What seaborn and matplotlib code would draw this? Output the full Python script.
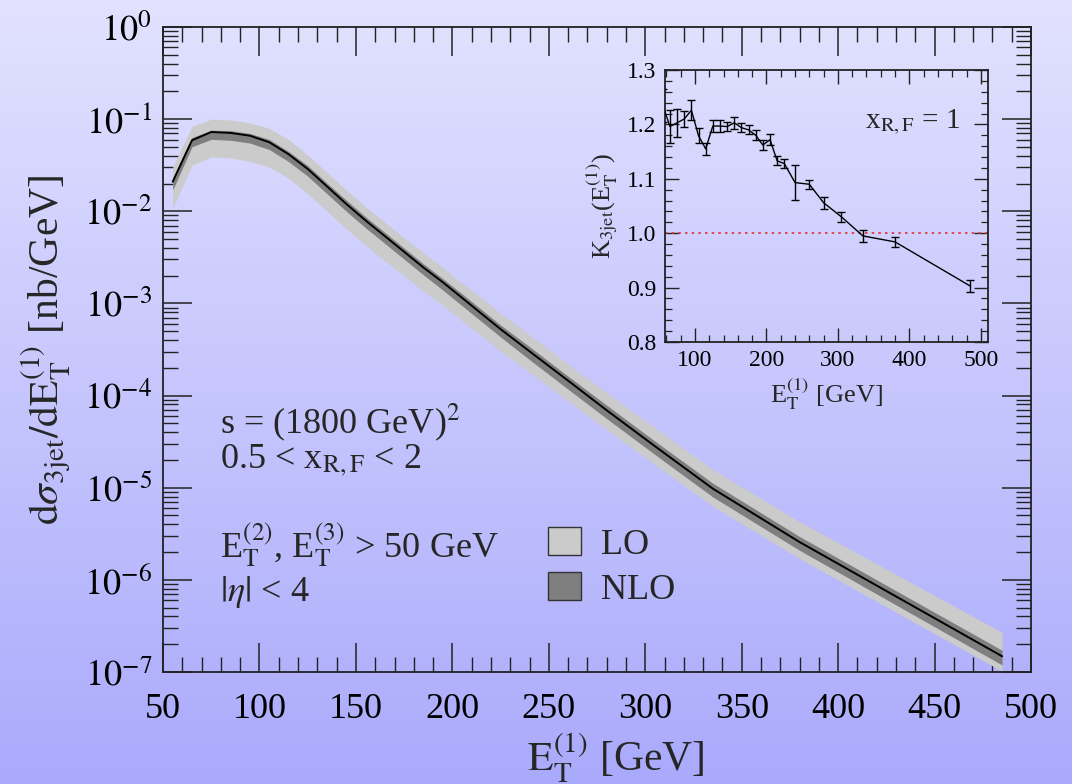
import numpy as np
import pandas as pd
import matplotlib
matplotlib.use("Agg")
import matplotlib.pyplot as plt
import seaborn as sns
from matplotlib.ticker import FixedLocator, MultipleLocator, FuncFormatter, LogLocator, NullFormatter
from matplotlib.patches import Patch

# ---------------- data ----------------
et = [55, 65, 75, 85, 95, 105, 115, 125, 135, 145, 155, 165, 175, 185, 195,
      205, 215, 225, 240, 260, 280, 305, 335, 380, 485]
nlo_central = [0.0209, 0.0589, 0.0724, 0.0708, 0.0661, 0.0562, 0.0417, 0.0288, 0.0186,
               0.0120, 0.00794, 0.00537, 0.00363, 0.00245, 0.00170, 0.00115, 7.76e-4,
               5.25e-4, 3.02e-4, 1.45e-4, 6.92e-5, 2.82e-5, 9.77e-6, 2.57e-6, 1.48e-7]
lo_upper = [0.0302, 0.0832, 0.100, 0.0977, 0.0912, 0.0794, 0.0603, 0.0407, 0.0263,
            0.0170, 0.0112, 0.00759, 0.00513, 0.00355, 0.00245, 0.00166, 0.00115,
            7.76e-4, 4.57e-4, 2.19e-4, 1.07e-4, 4.47e-5, 1.58e-5, 4.27e-6, 2.69e-7]
lo_lower = [0.01072, 0.0316, 0.0389, 0.0380, 0.0347, 0.0302, 0.0229, 0.0155, 0.0100,
            0.00646, 0.00427, 0.00288, 0.00200, 0.00135, 9.55e-4, 6.46e-4, 4.47e-4,
            3.02e-4, 1.78e-4, 8.71e-5, 4.27e-5, 1.78e-5, 6.31e-6, 1.70e-6, 1.02e-7]
nlo_upper = [0.0229, 0.0631, 0.0759, 0.0750, 0.0700, 0.0603, 0.0447, 0.0313, 0.0202,
             0.0132, 0.00871, 0.00589, 0.00398, 0.00269, 0.00186, 0.00127, 8.61e-4,
             5.82e-4, 3.39e-4, 1.62e-4, 7.85e-5, 3.20e-5, 1.12e-5, 2.95e-6, 1.72e-7]
nlo_lower = [0.0170, 0.0501, 0.0603, 0.0589, 0.0550, 0.0468, 0.0347, 0.0240, 0.0155,
             0.0100, 0.00661, 0.00447, 0.00302, 0.00204, 0.00140, 9.44e-4, 6.38e-4,
             4.32e-4, 2.45e-4, 1.17e-4, 5.62e-5, 2.29e-5, 7.94e-6, 2.09e-6, 1.19e-7]

k_factor = [1.235, 1.196, 1.203, 1.210, 1.226, 1.179, 1.155, 1.197, 1.197, 1.196,
            1.203, 1.194, 1.190, 1.180, 1.162, 1.172, 1.133, 1.128, 1.093, 1.090,
            1.056, 1.030, 0.995, 0.984, 0.903]
k_error = [0.030, 0.030, 0.026, 0.014, 0.018, 0.014, 0.011, 0.011, 0.011, 0.009,
           0.011, 0.008, 0.008, 0.009, 0.009, 0.010, 0.008, 0.009, 0.032, 0.008,
           0.011, 0.009, 0.011, 0.009, 0.011]

main_xticks = [50, 100, 150, 200, 250, 300, 350, 400, 450, 500]
main_yticks = [1e-7, 1e-6, 1e-5, 1e-4, 1e-3, 1e-2, 1e-1, 1e0]
inset_xticks = [100, 200, 300, 400, 500]
inset_yticks = [0.8, 0.9, 1.0, 1.1, 1.2, 1.3]

df = pd.DataFrame({"et": et, "nlo": nlo_central, "k": k_factor})

# ---------------- style ----------------
sns.set_theme(style="ticks")
plt.rcParams["font.family"] = ["Liberation Serif", "DejaVu Serif"]
plt.rcParams["mathtext.fontset"] = "stix"
plt.rcParams["axes.linewidth"] = 1.3

LO_COLOR = "#cbcbcb"
NLO_COLOR = "#7f7f7f"

fig = plt.figure(figsize=(10.72, 7.84), dpi=100)

# gradient background
bg = fig.add_axes([0, 0, 1, 1], zorder=-10)
top = np.array([226, 226, 255]) / 255.0
bot = np.array([170, 170, 252]) / 255.0
t = np.linspace(0, 1, 256)[:, None]
grad = (top[None, :] * (1 - t) + bot[None, :] * t)[:, None, :]
bg.imshow(grad, aspect="auto", extent=[0, 1, 0, 1], origin="upper")
bg.set_axis_off()

# ---------------- main axes ----------------
ax = fig.add_axes([0.1521, 0.1429, 0.8097, 0.8227])
ax.set_facecolor("none")
ax.set_yscale("log")
ax.fill_between(et, lo_lower, lo_upper, color=LO_COLOR, lw=0, zorder=1)
ax.fill_between(et, nlo_lower, nlo_upper, color=NLO_COLOR, lw=0, zorder=2)
sns.lineplot(data=df, x="et", y="nlo", ax=ax, color="black", lw=1.4, zorder=3)
ax.set_xlim(50, 500)
ax.set_ylim(1e-7, 1)
ax.xaxis.set_major_locator(FixedLocator(main_xticks))
ax.xaxis.set_minor_locator(MultipleLocator(10))
ax.yaxis.set_major_locator(FixedLocator(main_yticks))
ax.yaxis.set_minor_locator(LogLocator(base=10, subs=np.arange(2, 10), numticks=20))
ax.yaxis.set_minor_formatter(NullFormatter())
ax.yaxis.set_major_formatter(FuncFormatter(lambda v, p: r"$10^{%d}$" % int(round(np.log10(v)))))
ax.tick_params(which="both", direction="in", top=True, right=True, colors="#222222",
               labelcolor="black", labelsize=26)
ax.tick_params(which="major", length=21, width=1.1)
ax.tick_params(axis="x", which="major", pad=15)
ax.tick_params(axis="y", which="major", pad=8)
ax.tick_params(which="minor", length=10.5, width=1.0)
for s in ax.spines.values():
    s.set_color("#222222")
ax.set_xlabel(r"$\mathrm{E}_{\mathrm{T}}^{(1)}$ [GeV]", fontsize=30, labelpad=2)
ax.xaxis.set_label_coords(0.522, -0.092)
ax.set_ylabel(r"$\mathrm{d}\sigma_{\mathrm{3jet}}/\mathrm{dE}_{\mathrm{T}}^{(1)}$ [nb/GeV]",
              fontsize=30, labelpad=8)

# annotations
fig.text(220 / 1072, 1 - 433 / 784, r"s = (1800 GeV)$^{2}$", fontsize=26, va="baseline")
fig.text(220 / 1072, 1 - 468 / 784, r"0.5 < x$_{\mathrm{R,F}}$ < 2", fontsize=26, va="baseline")
fig.text(220 / 1072, 1 - 557 / 784,
         r"E$_{\mathrm{T}}^{(2)}$, E$_{\mathrm{T}}^{(3)}$ > 50 GeV",
         fontsize=26, va="baseline")
fig.text(220 / 1072, 1 - 601 / 784, r"$|\eta|$ < 4", fontsize=26, va="baseline")

handles = [Patch(facecolor=LO_COLOR, edgecolor="#333333", lw=1.0, label="LO"),
           Patch(facecolor=NLO_COLOR, edgecolor="#333333", lw=1.0, label="NLO")]
ax.legend(handles=handles, loc="upper left", bbox_to_anchor=(541 / 1072, 1 - 520 / 784),
          bbox_transform=fig.transFigure, frameon=False, fontsize=26,
          handlelength=0.9, handleheight=0.8, handletextpad=0.55, labelspacing=0.3,
          borderpad=0.2, borderaxespad=0)

# ---------------- inset ----------------
ins = fig.add_axes([0.6203, 0.5638, 0.3013, 0.3469])
ins.set_facecolor("none")
ins.axhline(1.0, color="#e03030", ls=(0, (1.5, 2.5)), lw=1.2, zorder=1)
sns.lineplot(data=df, x="et", y="k", ax=ins, color="black", lw=1.0, zorder=3)
ins.errorbar(et, k_factor, yerr=k_error, fmt="none", ecolor="black", elinewidth=1.0,
             capsize=3, capthick=1.0, zorder=3)
ins.set_xlim(58, 510)
ins.set_ylim(0.8, 1.3)
ins.xaxis.set_major_locator(FixedLocator(inset_xticks))
ins.xaxis.set_minor_locator(MultipleLocator(20))
ins.yaxis.set_major_locator(FixedLocator(inset_yticks))
ins.yaxis.set_minor_locator(MultipleLocator(0.02))
ins.yaxis.set_major_formatter(FuncFormatter(lambda v, p: "%.1f" % v))
ins.tick_params(which="both", direction="in", top=True, right=True, colors="#222222",
                labelcolor="black", labelsize=17)
ins.tick_params(which="major", length=10, width=1.0, pad=6)
ins.tick_params(which="minor", length=5, width=0.9)
for s in ins.spines.values():
    s.set_color("#222222")
ins.set_xlabel(r"E$_{\mathrm{T}}^{(1)}$ [GeV]", fontsize=19, labelpad=4)
ins.set_ylabel(r"K$_{\mathrm{3jet}}$(E$_{\mathrm{T}}^{(1)}$)", fontsize=19, labelpad=5)
ins.text(0.62, 0.785, r"x$_{\mathrm{R,F}}$ = 1", transform=ins.transAxes,
         fontsize=21, va="baseline")

fig.savefig("out.png", dpi=100)
